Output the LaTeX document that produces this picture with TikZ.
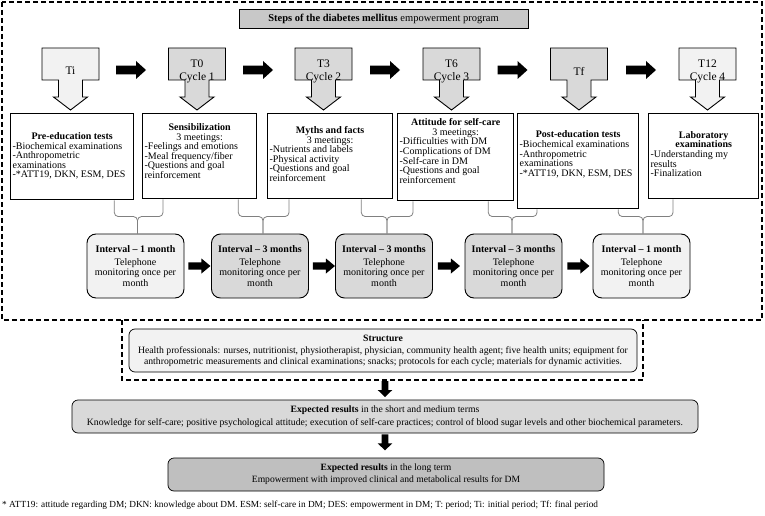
\documentclass[tikz,border=0pt]{standalone}
\usepackage{fontspec}
\setmainfont{Liberation Serif}
\usetikzlibrary{calc}
\definecolor{lg}{HTML}{F2F2F2}
\definecolor{mg}{HTML}{D9D9D9}
\definecolor{tg}{HTML}{C8C8C8}
\definecolor{dg}{HTML}{BFBFBF}
\definecolor{brc}{HTML}{808080}
\newcommand\fs[2]{\fontsize{#1}{#2}\selectfont\lineskiplimit=-20pt}
% text of a step box: width, centred head lines, left-aligned lines
\newcommand\tbt[3]{\parbox{#1}{\centering #2\par\raggedright #3\par}}
% horizontal block arrow: start, total length, head length, shaft half, head half
\newcommand\hblock[5]{\fill #1 ++(0,-#4) -- ++({#2-#3},0) -- ++(0,{#4-#5}) -- ++(#3,#5) -- ++(-#3,#5) -- ++(0,{#4-#5}) -- ++({#3-#2},0) -- cycle;}
% vertical block arrow (downwards)
\newcommand\vblock[5]{\fill #1 ++(-#4,0) -- ++(0,{#2-#3}) -- ++({#4-#5},0) -- ++(#5,#3) -- ++(#5,-#3) -- ++({#4-#5},0) -- ++(0,{#3-#2}) -- cycle;}
\newcommand\callout[2]{\filldraw[calloutshape, fill=#2] (#1-28.5,48) -- (#1+28.5,48) -- (#1+28.5,80) -- (#1+12,80) -- (#1+12,97) -- (#1+17,97) -- (#1,110) -- (#1-17,97) -- (#1-12,97) -- (#1-12,80) -- (#1-28.5,80) -- cycle;}
\newcommand\bracepair[4]{%
  \draw[bracel] #1 |- ($(#3.north)+(#4,-17)$) -- ([xshift=#4pt]#3.north);
  \draw[bracel] #2 |- ($(#3.north)+(#4,-17)$) -- ([xshift=#4pt]#3.north);}
\begin{document}
\begin{tikzpicture}[x=1pt,y=-1pt,
  dashbox/.style={line width=1.3pt, dash pattern=on 5pt off 3pt},
  calloutshape/.style={draw, line width=0.9pt},
  ctext/.style={align=center, inner sep=0pt, font=\fs{11.5}{13.5}},
  tbox/.style={draw, line width=1.3pt, inner sep=0pt, anchor=north west},
  ttext/.style={inner sep=0pt, font=\fs{10}{9.6}},
  ibox/.style={draw, line width=0.9pt, rounded corners=9pt, minimum width=97pt, minimum height=64pt, inner sep=0pt, align=center, font=\fs{10}{10.6}},
  bracel/.style={draw=brc, line width=0.8pt, rounded corners=4pt},
  rbox/.style={draw, line width=0.7pt, rounded corners=6pt, inner sep=0pt, align=center},
]
\useasboundingbox (0,0) rectangle (765,516);
\fill[white] (0,0) rectangle (765,516);

% outer dashed frame
\draw[dashbox] (2,2) rectangle (762,320);

% title
\node[draw, line width=0.8pt, fill=tg, minimum width=289pt, minimum height=19pt, inner sep=0pt, font=\fs{10.5}{12}] (title) at (383.5,18.5) {\textbf{Steps of the diabetes mellitus} empowerment program};

% callouts
\callout{70.5}{lg}
\callout{197}{mg}
\callout{323.5}{mg}
\callout{451.5}{mg}
\callout{579}{mg}
\callout{707.5}{lg}
\node[ctext] (c1) at (70.5,71) {Ti};
\node[ctext] (c2) at (197,71.5) {T0\\Cycle 1};
\node[ctext] (c3) at (323.5,71.5) {T3\\Cycle 2};
\node[ctext] (c4) at (451.5,71.5) {T6\\Cycle 3};
\node[ctext] (c5) at (579,71) {Tf};
\node[ctext] (c6) at (707.5,71.5) {T12\\Cycle 4};

% arrows between callouts
\hblock{(116,70)}{30}{10}{4.3}{9}
\hblock{(243,70)}{30}{10}{4.3}{9}
\hblock{(370,70)}{30}{10}{4.3}{9}
\hblock{(497.5,70)}{30}{10}{4.3}{9}
\hblock{(626,70)}{30}{10}{4.3}{9}

% text boxes
\node[tbox, minimum width=123pt, minimum height=86pt] (b1) at (10,113) {};
\node[tbox, minimum width=114pt, minimum height=85pt] (b2) at (142,113) {};
\node[tbox, minimum width=125pt, minimum height=85pt] (b3) at (267,113) {};
\node[tbox, minimum width=116pt, minimum height=87pt] (b4) at (397,113) {};
\node[tbox, minimum width=121pt, minimum height=95pt] (b5) at (517,113) {};
\node[tbox, minimum width=110pt, minimum height=85pt] (b6) at (648,113) {};

\node[ttext] (t1) at (b1.center |- 0,156) {\tbt{119pt}{\textbf{Pre-education tests}}{-Biochemical examinations\\-Anthropometric\\examinations\\-*ATT19, DKN, ESM, DES}};
\node[ttext] (t2) at (b2.center |- 0,151) {\tbt{110pt}{\textbf{Sensibilization}\\3 meetings:}{-Feelings and emotions\\-Meal frequency/fiber\\-Questions and goal\\reinforcement}};
\node[ttext] (t3) at (b3.center |- 0,154) {\tbt{121pt}{\textbf{Myths and facts}\\3 meetings:}{-Nutrients and labels\\-Physical activity\\-Questions and goal\\reinforcement}};
\node[ttext] (t4) at (b4.center |- 0,151) {\tbt{112pt}{\textbf{Attitude for self-care}\\3 meetings:}{-Difficulties with DM\\-Complications of DM\\-Self-care in DM\\-Questions and goal\\reinforcement}};
\node[ttext] (t5) at (b5.center |- 0,154.5) {\tbt{117pt}{\textbf{Post-education tests}}{-Biochemical examinations\\-Anthropometric\\examinations\\-*ATT19, DKN, ESM, DES}};
\node[ttext] (t6) at (b6.center |- 0,154) {\tbt{106pt}{\textbf{Laboratory}\\\textbf{examinations}}{-Understanding my\\results\\-Finalization}};

% interval boxes
\node[ibox, fill=lg] (i1) at (135.5,266) {\textbf{Interval \textendash{} 1 month}\\[2.5pt]Telephone\\monitoring once per\\month};
\node[ibox, fill=mg] (i2) at (260,266) {\textbf{Interval \textendash{} 3 months}\\[2.5pt]Telephone\\monitoring once per\\month};
\node[ibox, fill=mg] (i3) at (384,266) {\textbf{Interval \textendash{} 3 months}\\[2.5pt]Telephone\\monitoring once per\\month};
\node[ibox, fill=mg] (i4) at (513.5,266) {\textbf{Interval \textendash{} 3 months}\\[2.5pt]Telephone\\monitoring once per\\month};
\node[ibox, fill=lg] (i5) at (641.5,266) {\textbf{Interval \textendash{} 1 month}\\[2.5pt]Telephone\\monitoring once per\\month};

% braces
\bracepair{([xshift=-20pt]b1.south east)}{([xshift=21pt]b2.south west)}{i1}{2}
\bracepair{([xshift=-19pt]b2.south east)}{([xshift=22pt]b3.south west)}{i2}{3}
\bracepair{([xshift=-32pt]b3.south east)}{([xshift=16pt]b4.south west)}{i3}{3}
\bracepair{([xshift=-26pt]b4.south east)}{([xshift=20pt]b5.south west)}{i4}{-1.5}
\bracepair{([xshift=-21pt]b5.south east)}{([xshift=25pt]b6.south west)}{i5}{1.5}

% arrows between intervals
\hblock{([xshift=4pt]i1.east)}{22}{9}{3.7}{7.5}
\hblock{([xshift=4pt]i2.east)}{22}{9}{3.7}{7.5}
\hblock{([xshift=5pt]i3.east)}{22}{9}{3.7}{7.5}
\hblock{([xshift=5pt]i4.east)}{22}{9}{3.7}{7.5}

% structure
\draw[dashbox] (122,320) -- (122,380) -- (643,380) -- (643,320);
\node[rbox, fill=lg, minimum width=508pt, minimum height=43pt, font=\fs{9.7}{11}] (st) at (383,350.5) {\textbf{Structure}\\[1pt]Health professionals: nurses, nutritionist, physiotherapist, physician, community health agent; five health units; equipment for\\anthropometric measurements and clinical examinations; snacks; protocols for each cycle; materials for dynamic activities.};
\coordinate (sdb) at (385,381);

\node[rbox, fill=mg, minimum width=626pt, minimum height=33pt, font=\fs{9.7}{12.5}] (ex) at (385,416.5) {\textbf{Expected results} in the short and medium terms\\Knowledge for self-care; positive psychological attitude; execution of self-care practices; control of blood sugar levels and other biochemical parameters.};
\node[rbox, fill=dg, minimum width=436pt, minimum height=33pt, font=\fs{9.6}{12}] (lt) at (386,474.5) {\textbf{Expected results} in the long term\\Empowerment with improved clinical and metabolical results for DM};

\vblock{(sdb)}{16}{7}{3.4}{7.3}
\vblock{([yshift=-1pt]ex.south)}{16}{7}{3.4}{7.3}

% footnote
\node[anchor=west, inner sep=0pt, font=\fs{9.3}{11}] (fn) at (2,505) {* ATT19: attitude regarding DM; DKN: knowledge about DM. ESM: self-care in DM; DES: empowerment in DM; T: period; Ti: initial period; Tf: final period};
\end{tikzpicture}
\end{document}
